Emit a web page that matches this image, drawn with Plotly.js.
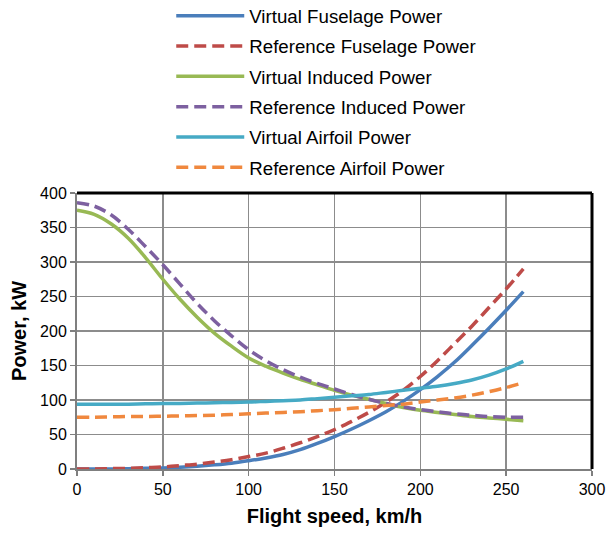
<!DOCTYPE html>
<html>
<head>
<meta charset="utf-8">
<script src="https://cdn.plot.ly/plotly-3.0.1.min.js"></script>
<style>html,body{margin:0;padding:0;background:#fff;}#chart{width:609px;height:535px;}</style>
</head>
<body>
<div id="chart"></div>
<script>
const speed = [0,10,20,30,40,50,60,70,80,90,100,110,120,130,140,150,160,170,180,190,200,210,220,230,240,250,260];
const virtualFuselage = [0,0,0,0.5,1,1.5,2.5,4,6,8.5,12,16,21,28,37,47,58,70,83,98,115,134,155,179,204,230,257];
const referenceFuselage = [0,0,0.5,1,2,3,5,7,10,13.5,18,23,30,38,47,57,69,82,97,114,134,157,182,207,234,261,290];
const virtualInduced = [375,369,355,334,306,275,246,220,197,178,161,149,139,130,122,114,107,101,95,89,85,82,79,76,74,72,70];
const referenceInduced = [386,381,368,347,322,296,268,240,215,193,173,157,144,133,124,116,108,101,95,90,86,83,80,78,76,75,75];
const virtualAirfoil = [94,94,94,94,94.5,95,95,95.5,96,96.5,97,98,99,100,102,104,106,108,111,114,117,120,124,129,136,145,156];
const referenceAirfoil = [75,75,75.5,76,76,76.5,77,77.5,78,79,80,81,82,83,84.5,86,88,90,92,94,97,100,103,107,112,118,125];
const seriesNames = ["Virtual Fuselage Power","Reference Fuselage Power","Virtual Induced Power","Reference Induced Power","Virtual Airfoil Power","Reference Airfoil Power"];
const seriesData = [virtualFuselage, referenceFuselage, virtualInduced, referenceInduced, virtualAirfoil, referenceAirfoil];
const colors = ["#4a7ebb","#be4b48","#98b954","#7d60a0","#46aac5","#f0883e"];
const dashes = ["solid","12px,6px","solid","12px,6px","solid","12px,6px"];
const xTicks = [0,50,100,150,200,250,300];
const yTicks = [0,50,100,150,200,250,300,350,400];

const traces = seriesData.map((d,i)=>({
  x: speed, y: d, name: seriesNames[i], type: 'scatter', mode: 'lines',
  legendgroup: 'g'+i,
  line: {color: colors[i], width: 3.5, dash: dashes[i], shape: 'spline', smoothing: 1}
}));

const layout = {
  width: 609, height: 535,
  margin: {l: 77, r: 17, t: 193, b: 66, autoexpand: false},
  paper_bgcolor: '#fff', plot_bgcolor: '#fff',
  font: {family: 'Arial, Liberation Sans, sans-serif', color: '#000'},
  showlegend: true,
  legend: {x: 0.183, xanchor: 'left', y: 1.71, yanchor: 'top', font: {size: 18.7, color: '#000'},
           itemwidth: 68, tracegroupgap: 3, bgcolor: 'rgba(0,0,0,0)'},
  xaxis: {range: [0,300], tickvals: xTicks, ticktext: xTicks.map(String),
          showgrid: true, gridcolor: '#8c8c8c', gridwidth: 1.5,
          showline: true, linecolor: '#7f7f7f', linewidth: 2,
          ticks: 'outside', ticklen: 5, tickcolor: '#7f7f7f', tickwidth: 1.5,
          tickfont: {size: 16, color: '#000'}, zeroline: false,
          title: {text: '<b>Flight speed, km/h</b>', font: {size: 20, color: '#000'}, standoff: 12}},
  yaxis: {range: [0,400], tickvals: yTicks, ticktext: yTicks.map(String),
          showgrid: true, gridcolor: '#8c8c8c', gridwidth: 1.5,
          showline: true, linecolor: '#7f7f7f', linewidth: 2,
          ticks: 'outside', ticklen: 5, tickcolor: '#7f7f7f', tickwidth: 1.5,
          tickfont: {size: 16, color: '#000'}, zeroline: false,
          title: {text: '<b>Power, kW</b>', font: {size: 20, color: '#000'}, standoff: 8}},
  shapes: [
    {type: 'line', xref: 'paper', yref: 'paper', x0: 0, x1: 1, y0: 1, y1: 1, line: {color: '#000', width: 3}},
    {type: 'line', xref: 'paper', yref: 'paper', x0: 1, x1: 1, y0: 0, y1: 1, line: {color: '#000', width: 3}}
  ]
};
Plotly.newPlot('chart', traces, layout, {displayModeBar: false, staticPlot: true});
</script>
</body>
</html>
